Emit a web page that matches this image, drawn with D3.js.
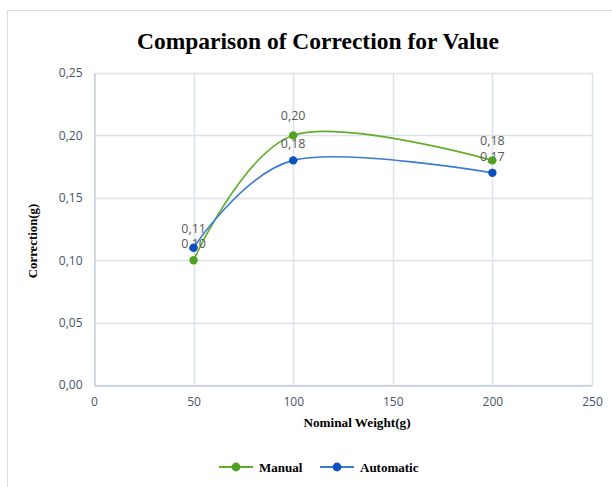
<!DOCTYPE html>
<html>
<head>
<meta charset="utf-8">
<script src="https://cdn.jsdelivr.net/npm/d3@7"></script>
<style>
  html, body { margin: 0; padding: 0; background: #fff; }
  svg { display: block; }
</style>
</head>
<body>
<svg id="chart" width="612" height="487"></svg>
<script>
// Nominal weights (g) and the correction measured by each method
const weights = [50, 100, 200];
const manual = [0.10, 0.20, 0.18];
const automatic = [0.11, 0.18, 0.17];
const xTicks = [0, 50, 100, 150, 200, 250];
const yTicks = [0, 0.05, 0.10, 0.15, 0.20, 0.25];
const seriesNames = ["Manual", "Automatic"];

const series = [
  { name: seriesNames[0], values: manual, line: "#62ad2c", dot: "#4ea21f" },
  { name: seriesNames[1], values: automatic, line: "#3a7bd5", dot: "#0d4fc2" }
];

const svg = d3.select("#chart");
const fmt = v => d3.format(".2f")(v).replace(".", ",");

// chart frame
svg.append("rect")
  .attr("x", 7.5).attr("y", 10.5)
  .attr("width", 700).attr("height", 600)
  .attr("fill", "#fff").attr("stroke", "#d9dde3");

const x = d3.scaleLinear().domain([0, 250]).range([94, 592]);
const y = d3.scaleLinear().domain([0, 0.25]).range([385, 73]);

// grid lines
const grid = svg.append("g");
grid.selectAll(".gy").data(yTicks).join("line")
  .attr("x1", x(0)).attr("x2", x(250))
  .attr("y1", d => Math.round(y(d)) + 0.5).attr("y2", d => Math.round(y(d)) + 0.5)
  .attr("stroke", "#dce2ea").attr("stroke-width", 1.4);
grid.selectAll(".gx").data(xTicks).join("line")
  .attr("x1", d => Math.round(x(d)) + 0.5).attr("x2", d => Math.round(x(d)) + 0.5)
  .attr("y1", y(0)).attr("y2", y(0.25))
  .attr("stroke", "#dce2ea").attr("stroke-width", 1.4);

// axes
const tickFont = "'Open Sans', 'Liberation Sans', sans-serif";
const xAxis = svg.append("g")
  .attr("transform", `translate(0,${Math.round(y(0)) + 0.5})`)
  .call(d3.axisBottom(x).tickValues(xTicks).tickSize(0).tickPadding(12).tickFormat(d3.format("d")));
xAxis.select(".domain").attr("stroke", "#c6cfdb").attr("stroke-width", 1.4);

const yAxis = svg.append("g")
  .attr("transform", `translate(${Math.round(x(0)) + 0.5},0)`)
  .call(d3.axisLeft(y).tickValues(yTicks).tickSize(0).tickPadding(12).tickFormat(fmt));
yAxis.select(".domain").attr("stroke", "#c6cfdb").attr("stroke-width", 1.4);

svg.selectAll(".tick text")
  .attr("fill", "#44546a")
  .style("font-family", tickFont)
  .style("font-size", "12px");

// smoothed series lines
const line = d3.line()
  .x((d, i) => x(weights[i]))
  .y(d => y(d))
  .curve(d3.curveCardinal.tension(0));

series.forEach(s => {
  svg.append("path")
    .datum(s.values)
    .attr("d", line)
    .attr("fill", "none")
    .attr("stroke", s.line)
    .attr("stroke-width", 1.6);
});

// value labels above each point; where two labels share a weight,
// the upper one is lifted and the lower one dropped a little
series.forEach((s, si) => {
  const other = series[1 - si].values;
  svg.append("g").selectAll("text")
    .data(s.values).join("text")
    .attr("x", (d, i) => x(weights[i]))
    .attr("y", (d, i) => y(d) - (d > other[i] ? 15 : 12))
    .attr("text-anchor", "middle")
    .attr("fill", "#595959")
    .style("font-family", tickFont)
    .style("font-size", "12.5px")
    .text(d => fmt(d));
});

// point markers
series.forEach(s => {
  svg.append("g").selectAll("circle")
    .data(s.values).join("circle")
    .attr("cx", (d, i) => x(weights[i]))
    .attr("cy", d => y(d))
    .attr("r", 4.2)
    .attr("fill", s.dot);
});

// title
const serif = "'Liberation Serif', 'Times New Roman', serif";
svg.append("text")
  .attr("x", 318).attr("y", 49)
  .attr("text-anchor", "middle")
  .style("font-family", serif)
  .style("font-weight", "bold")
  .style("font-size", "23.5px")
  .attr("fill", "#000")
  .text("Comparison of Correction for Value");

// axis titles
svg.append("text")
  .attr("x", 357).attr("y", 427)
  .attr("text-anchor", "middle")
  .style("font-family", serif)
  .style("font-weight", "bold")
  .style("font-size", "13.2px")
  .text("Nominal Weight(g)");

svg.append("text")
  .attr("transform", "translate(37,241) rotate(-90)")
  .attr("text-anchor", "middle")
  .style("font-family", serif)
  .style("font-weight", "bold")
  .style("font-size", "12.8px")
  .text("Correction(g)");

// legend
const legendX = [219, 320];
const legend = svg.append("g");
series.forEach((s, i) => {
  const g = legend.append("g").attr("transform", `translate(${legendX[i]},467)`);
  g.append("line").attr("x1", 0).attr("x2", 34).attr("y1", 0).attr("y2", 0)
    .attr("stroke", s.line).attr("stroke-width", 1.8);
  g.append("circle").attr("cx", 17).attr("cy", 0).attr("r", 4.4).attr("fill", s.dot);
  g.append("text").attr("x", 40).attr("y", 4.5)
    .style("font-family", serif)
    .style("font-weight", "bold")
    .style("font-size", "13px")
    .text(s.name);
});
</script>
</body>
</html>
